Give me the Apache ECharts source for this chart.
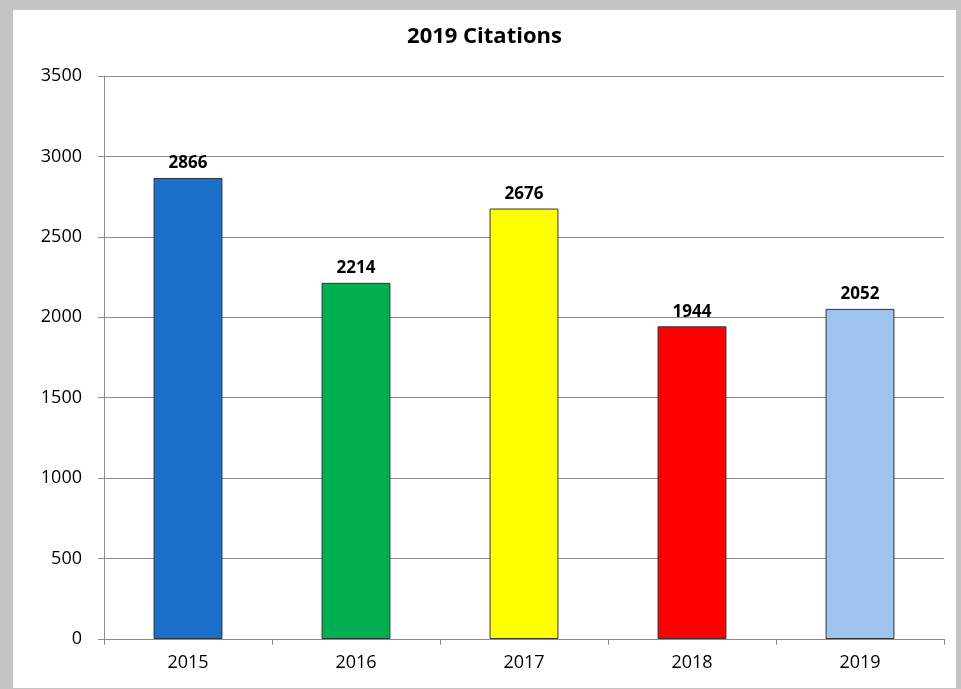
<!DOCTYPE html>
<html>
<head>
<meta charset="utf-8">
<script src="https://cdn.jsdelivr.net/npm/echarts@6/dist/echarts.min.js"></script>
<style>
html, body { margin: 0; padding: 0; width: 961px; height: 689px; overflow: hidden; background: #c4c4c4; }
#frame { position: absolute; left: 13px; top: 10px; width: 943px; height: 678px; background: #fff; }
#main { width: 943px; height: 678px; }
</style>
</head>
<body>
<div id="frame"><div id="main"></div></div>
<script>
var years = ['2015', '2016', '2017', '2018', '2019'];
var citations = [2866, 2214, 2676, 1944, 2052];
var barColors = ['#1a6fc9', '#00b050', '#ffff00', '#ff0000', '#9ec3ee'];

var chart = echarts.init(document.getElementById('main'));

var data = [];
for (var i = 0; i < years.length; i++) {
    data.push({
        value: citations[i],
        itemStyle: { color: barColors[i] }
    });
}

var font = '"Open Sans", "Liberation Sans", sans-serif';

chart.setOption({
    animation: false,
    title: {
        text: '2019 Citations',
        left: 'center',
        top: 11,
        textStyle: { fontFamily: font, fontSize: 22, fontWeight: 'bold', color: '#000' }
    },
    grid: { left: 91, right: 12, top: 66, bottom: 49 },
    xAxis: {
        type: 'category',
        data: years,
        axisLine: { lineStyle: { color: '#8c8c8c' } },
        axisTick: { show: true, length: 6, lineStyle: { color: '#8c8c8c' } },
        axisLabel: { fontFamily: font, fontSize: 18, color: '#000', margin: 15 }
    },
    yAxis: {
        type: 'value',
        min: 0,
        max: 3500,
        interval: 500,
        axisLine: { show: true, lineStyle: { color: '#8c8c8c' } },
        axisTick: { show: true, length: 6, lineStyle: { color: '#8c8c8c' } },
        axisLabel: {
            fontFamily: font, fontSize: 18, color: '#000', margin: 22,
            formatter: function (v) { return String(v); }
        },
        splitLine: { lineStyle: { color: '#8c8c8c' } }
    },
    series: [{
        type: 'bar',
        data: data,
        barWidth: '41%',
        itemStyle: { borderColor: '#333', borderWidth: 1 },
        label: {
            show: true,
            position: 'top',
            distance: 6,
            fontFamily: font,
            fontSize: 17,
            fontWeight: 'bold',
            color: '#000'
        }
    }]
});
</script>
</body>
</html>
